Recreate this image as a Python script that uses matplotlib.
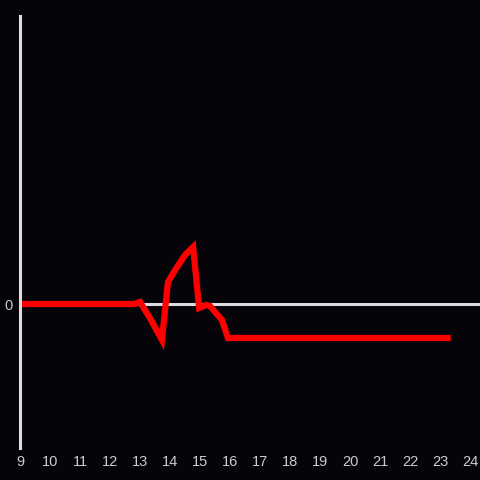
import matplotlib
matplotlib.use('Agg')
import matplotlib.pyplot as plt

# hours of the day and the value at each
hours = [9, 12.8, 13.0, 13.33, 13.73, 13.93, 14.17, 14.5, 14.77, 14.97, 15.2, 15.33, 15.73, 15.93, 23.25]
values = [0, 0, 2, -14, -36, 22, 34, 49, 57, -4, -1, -2, -16, -34, -34]
xticks = list(range(9, 25))

bg = '#060409'
fig = plt.figure(figsize=(4.8, 4.8), dpi=100, facecolor=bg)
ax = fig.add_axes([20/480, 32/480, 460/480, 432/480], facecolor=bg)

ax.axhline(0, color='#dddddd', lw=2.2, zorder=1)
ax.plot(hours, values, color='#ff0000', lw=4.5, solid_joinstyle='miter', zorder=2)

ax.set_xlim(9, 24.33)
ax.set_ylim(-144, 288)
ax.set_xticks(xticks)
ax.set_yticks([0])
ax.tick_params(length=0, colors='#cccccc', labelsize=10.5, pad=5)
for lab in ax.get_xticklabels() + ax.get_yticklabels():
    lab.set_family('Liberation Sans')

for s in ['top', 'right', 'bottom']:
    ax.spines[s].set_visible(False)
ax.spines['left'].set_color('#dddddd')
ax.spines['left'].set_linewidth(2.2)

fig.savefig('out.png', dpi=100, facecolor=bg)
